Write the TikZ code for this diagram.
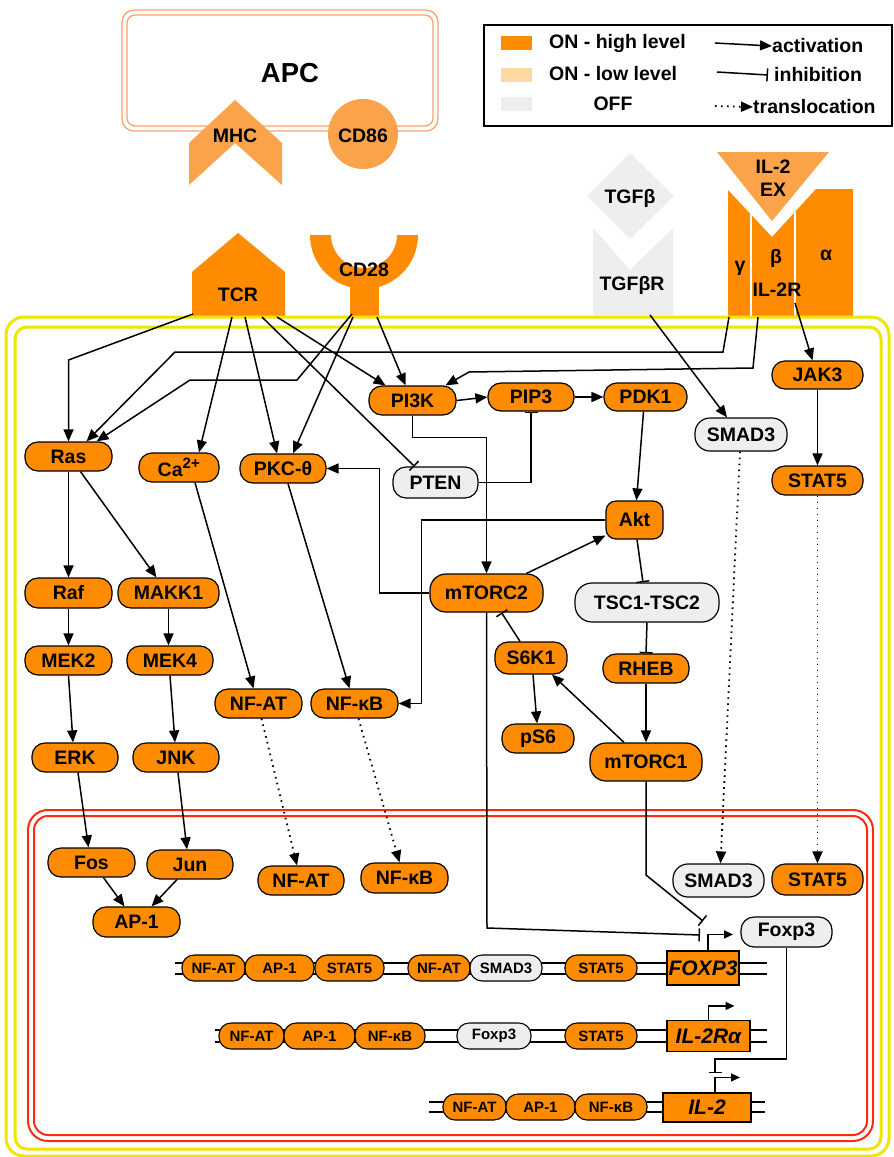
\documentclass[tikz,border=0pt]{standalone}
\usepackage{fontspec}
\setmainfont{Liberation Sans}
\usetikzlibrary{arrows.meta,calc}

\definecolor{onhigh}{HTML}{FF8C00}
\definecolor{onlow}{HTML}{FFD9A3}
\definecolor{offgrey}{HTML}{EEEEEE}
\definecolor{ligand}{HTML}{FAA34B}
\definecolor{apcline}{HTML}{F8A470}
\definecolor{memyellow}{HTML}{EEE600}
\definecolor{nucred}{HTML}{FF2A10}

\begin{document}
\begin{tikzpicture}[x=1pt,y=-1pt,
  font=\fontsize{19.5}{21}\selectfont\bfseries,
  mol/.style={draw=black, line width=1.2pt, fill=onhigh, rounded corners=13pt,
    minimum height=29pt, inner sep=0pt},
  off/.style={mol, fill=offgrey},
  gmol/.style={draw=black, line width=1.1pt, fill=onhigh, rounded corners=12pt,
    minimum height=26pt, inner sep=0pt, font=\fontsize{15}{16}\selectfont\bfseries},
  goff/.style={gmol, fill=offgrey},
  gene/.style={draw=black, line width=1.1pt, fill=onhigh, inner sep=0pt,
    font=\fontsize{21}{22}\selectfont\bfseries\itshape},
  dna/.style={line width=1.1pt},
  act/.style={line width=1.5pt, -{Triangle[length=12pt,width=10pt]}},
  inh/.style={line width=1.5pt, -{Bar[width=13pt,line width=1.5pt]}},
  trans/.style={line width=1.8pt, dash pattern=on 1.6pt off 4.4pt, -{Triangle[length=12pt,width=10pt]}},
  prom/.style={line width=1.5pt, -{Triangle[length=9pt,width=8pt]}},
  lab/.style={inner sep=0pt},
]
\useasboundingbox (0,0) rectangle (894,1157);
\fill[white] (0,0) rectangle (894,1157);

% ---------- antigen presenting cell ----------
\draw[apcline, line width=1.3pt, rounded corners=12pt] (122,10) rectangle (438,131);
\draw[apcline, line width=1.3pt, rounded corners=8pt] (127,15) rectangle (433,126);
\node[lab, font=\fontsize{27.5}{29}\selectfont\bfseries] (apc) at (290,73) {APC};
\fill[ligand] (189,143) -- (235,100) -- (282,143) -- (282,185) -- (235,143) -- (189,185) -- cycle;
\node[lab] (mhc) at (235,136) {MHC};
\fill[ligand] (363,134) circle[radius=35];
\node[lab] (cd86) at (363,136) {CD86};

% ---------- legend ----------
\draw[line width=1.3pt] (484,25) rectangle (892,126);
\fill[onhigh] (501,36) rectangle (532,50);
\fill[onlow] (501,68) rectangle (532,82);
\fill[offgrey] (501,97) rectangle (532,111);
\node[lab, anchor=west] (lgA) at (549,43) {ON - high level};
\node[lab, anchor=west] (lgB) at (549,74) {ON - low level};
\node[lab] (lgC) at (613,104) {OFF};
\node[lab, anchor=west] (lgD) at (772,46) {activation};
\node[lab, anchor=west] (lgE) at (774,75) {inhibition};
\node[lab, anchor=west] (lgF) at (753,107) {translocation};
\coordinate (lgA1) at (715,43);
\coordinate (lgB1) at (717,72);
\coordinate (lgC1) at (715,106);
\draw[act] (lgA1) -- (lgD.west);
\draw[inh] (lgB1) -- ([xshift=-6pt]lgE.west);
\draw[trans] (lgC1) -- (lgF.west);

% ---------- receptors and ligands ----------
\fill[onhigh] (192,316) -- (192,272) -- (238,233) -- (285,272) -- (285,316) -- cycle;
\node[lab] (tcr) at (238,295) {TCR};
\fill[onhigh] (310,235) arc[start angle=180, end angle=0, radius=54]
  -- (397,235) arc[start angle=0, end angle=180, radius=33] -- cycle;
\fill[onhigh] (350,280) rectangle (379,316);
\node[lab] (cd28) at (364,270) {CD28};

\fill[offgrey] (587,196) -- (630,153) -- (674,196) -- (630,239) -- cycle;
\node[lab] (tgfb) at (630,198) {TGFβ};
\fill[offgrey] (593,228) -- (630,270) -- (673,228) -- (673,315) -- (593,315) -- cycle;
\node[lab] (tgfbr) at (632,285) {TGFβR};

\fill[onhigh] (728,190) -- (772,237) -- (816,189) -- (853,189) -- (853,316) -- (728,316) -- cycle;
\draw[white, line width=1.6pt] (751,214) -- (751,317);
\draw[white, line width=1.6pt] (795,212) -- (795,317);
\fill[ligand] (717,152) -- (829,152) -- (772,221) -- cycle;
\node[lab] (il2ex) at (773,167) {IL-2};
\node[lab] (ex) at (773,190) {EX};
\node[lab] (gam) at (740,268) {γ};
\node[lab] (bet) at (776,258) {β};
\node[lab] (alp) at (826,255) {α};
\node[lab] (il2r) at (777,290) {IL-2R};

% ---------- membranes ----------
\draw[memyellow, line width=3pt, rounded corners=18pt] (6,317) rectangle (889,1156);
\draw[memyellow, line width=3pt, rounded corners=12pt] (15,327) rectangle (881,1149);
\draw[nucred, line width=2pt, rounded corners=20pt] (28,810) rectangle (873,1141);
\draw[nucred, line width=2pt, rounded corners=14pt] (34,816) rectangle (867,1135);

% ---------- cytoplasmic molecules ----------
\node[mol, minimum width=87pt] (ras) at (68.5,456.5) {Ras};
\node[mol, minimum width=80pt] (ca) at (179,467.5) {Ca\textsuperscript{\fontsize{15}{16}\selectfont 2+}};
\node[mol, minimum width=86pt] (pkc) at (283,468.5) {PKC-θ};
\node[off, minimum width=85pt, minimum height=31pt] (pten) at (435.5,482.5) {PTEN};
\node[mol, minimum width=87pt] (pi3k) at (412.5,400.5) {PI3K};
\node[mol, minimum width=86pt, minimum height=28pt] (pip3) at (531,397) {PIP3};
\node[mol, minimum width=83pt, minimum height=28pt] (pdk1) at (645.5,397) {PDK1};
\node[off, minimum width=92pt, minimum height=33pt, rounded corners=15pt] (smadc) at (741,434.5) {SMAD3};
\node[mol, minimum width=91pt, minimum height=28pt] (jak3) at (817.5,375) {JAK3};
\node[mol, minimum width=91pt] (stat5c) at (817.5,480.5) {STAT5};
\node[mol, minimum width=57pt, minimum height=38pt, rounded corners=10pt] (akt) at (634.5,520) {Akt};
\node[mol, minimum width=113pt, minimum height=38pt, rounded corners=16pt] (mtorc2) at (486.5,593) {mTORC2};
\node[off, minimum width=144pt, minimum height=39pt, rounded corners=17pt] (tsc) at (647,602.5) {TSC1-TSC2};
\node[mol, minimum width=72pt, minimum height=32pt] (s6k1) at (531,658) {S6K1};
\node[mol, minimum width=86pt] (rheb) at (646,668.5) {RHEB};
\node[mol, minimum width=72pt] (ps6) at (538,738.5) {pS6};
\node[mol, minimum width=112pt, minimum height=38pt, rounded corners=16pt] (mtorc1) at (646,762) {mTORC1};
\node[mol, minimum width=87pt, minimum height=30pt] (raf) at (68.5,593) {Raf};
\node[mol, minimum width=101pt, minimum height=30pt] (makk1) at (168.5,593) {MAKK1};
\node[mol, minimum width=87pt] (mek2) at (68.5,660.5) {MEK2};
\node[mol, minimum width=86pt] (mek4) at (170,660.5) {MEK4};
\node[mol, minimum width=86pt] (erk) at (75,757.5) {ERK};
\node[mol, minimum width=86pt] (jnk) at (176,757.5) {JNK};
\node[mol, minimum width=87pt] (nfatc) at (258.5,703.5) {NF-AT};
\node[mol, minimum width=87pt] (nfkbc) at (354.5,703.5) {NF-κB};

% ---------- nuclear molecules ----------
\node[mol, minimum width=87pt] (fos) at (91.5,862.5) {Fos};
\node[mol, minimum width=86pt] (jun) at (190,864.5) {Jun};
\node[mol, minimum width=87pt, minimum height=30pt] (ap1) at (136.5,922) {AP-1};
\node[mol, minimum width=86pt] (nfatn) at (301,880.5) {NF-AT};
\node[mol, minimum width=87pt, minimum height=30pt] (nfkbn) at (404.5,878) {NF-κB};
\node[off, minimum width=91pt, minimum height=33pt, rounded corners=15pt] (smadn) at (718.5,880.5) {SMAD3};
\node[mol, minimum width=91pt, minimum height=31pt] (stat5n) at (817.5,879.5) {STAT5};
\node[off, minimum width=91pt, minimum height=30pt] (foxp3n) at (786.5,932) {Foxp3};

% ---------- genes ----------
\draw[dna] (175,963) -- (767,963);
\draw[dna] (175,974) -- (767,974);
\node[gmol, minimum width=63pt] (r1a) at (213.5,968) {NF-AT};
\node[gmol, minimum width=69pt] (r1b) at (279.5,968) {AP-1};
\node[gmol, minimum width=69pt] (r1c) at (349.5,968) {STAT5};
\node[gmol, minimum width=62pt] (r1d) at (439,968) {NF-AT};
\node[goff, minimum width=72pt] (r1e) at (506,968) {SMAD3};
\node[gmol, minimum width=72pt] (r1f) at (601,968) {STAT5};
\node[gene, minimum width=72pt, minimum height=34pt] (gfox) at (703,968) {FOXP3};

\draw[dna] (215,1030) -- (767,1030);
\draw[dna] (215,1042) -- (767,1042);
\node[gmol, minimum width=65pt] (r2a) at (251.5,1036) {NF-AT};
\node[gmol, minimum width=71pt] (r2b) at (319.5,1036) {AP-1};
\node[gmol, minimum width=70pt] (r2c) at (390,1036) {NF-κB};
\node[goff, minimum width=74pt] (r2d) at (494,1036) {Foxp3};
\node[gmol, minimum width=72pt] (r2e) at (601,1036) {STAT5};
\node[gene, minimum width=83pt, minimum height=31pt] (gil2ra) at (708.5,1036) {IL-2Rα};

\draw[dna] (429,1102) -- (765,1102);
\draw[dna] (429,1112) -- (765,1112);
\node[gmol, minimum width=63pt] (r3a) at (474.5,1107) {NF-AT};
\node[gmol, minimum width=69pt] (r3b) at (540.5,1107) {AP-1};
\node[gmol, minimum width=72pt] (r3c) at (611,1107) {NF-κB};
\node[gene, minimum width=88pt, minimum height=29pt] (gil2) at (707,1107.5) {IL-2};

% promoters
\draw[prom] ([xshift=5pt]gfox.north) -- ++(0,-16) -- ++(25,0);
\draw[prom] ([xshift=0pt]gil2ra.north) -- ++(0,-14) -- ++(26,0);
\draw[prom] ([xshift=8pt]gil2.north) -- ++(0,-15) -- ++(25,0);

% ---------- receptor outputs ----------
\coordinate (tcrA) at (193,314);
\coordinate (tcrB) at (232,317);
\coordinate (tcrC) at (245,317);
\coordinate (tcrD) at (262,317);
\coordinate (tcrE) at (277,317);
\coordinate (cdA) at (352,314);
\coordinate (cdB) at (353,317);
\coordinate (cdC) at (377,317);
\coordinate (il2g) at (729,317);
\coordinate (il2b) at (758,317);
\coordinate (il2a) at (795,303);
\coordinate (tgfr) at (650,315);

\draw[act] (tcrA) -- (68.5,360) -- (ras.north);
\draw[act] (tcrB) -- ([xshift=20pt]ca.north);
\draw[act] (tcrC) -- ([xshift=-6pt]pkc.north);
\draw[inh] (tcrD) -- ([xshift=-21pt]pten.north);
\draw[act] (tcrE) -- ([xshift=-27pt]pi3k.north);
\draw[act] (cdA) -- (297,380) -- (190,380) -- ([xshift=28pt]ras.north);
\draw[act] (cdB) -- ([xshift=10pt]pkc.north);
\draw[act] (cdC) -- ([xshift=-7pt]pi3k.north);
\draw[act] (il2g) -- (723,352) -- (175,352) -- ([xshift=18pt]ras.north);
\draw[act] (il2b) -- (753,368) -- (469,372) -- ([xshift=33pt]pi3k.north);
\draw[act] (il2a) -- ([xshift=-5pt]jak3.north);
\draw[act] (tgfr) -- ([xshift=-14pt]smadc.north);

% ---------- signalling ----------
\draw[act] (pi3k.east) -- (pip3.west);
\draw[act] (pip3.east) -- (pdk1.west);
\draw[act] (pi3k.south) -- ++(0,22) -| (mtorc2.north);
\draw[inh] (pten.east) -| (pip3.south);
\draw[act] ([xshift=-2pt]pdk1.south) -- ([xshift=2pt]akt.north);
\draw[act] ([xshift=40pt]mtorc2.north) -- ([yshift=4pt]akt.south west);
\draw[act] (akt.west) -- ++(-184,0) |- (nfkbc.east);
\draw[act] (mtorc2.west) -- ++(-50,0) |- (pkc.east);
\draw[inh] ([xshift=2.5pt]akt.south) -- ([xshift=-4pt]tsc.north);
\draw[inh] (tsc.south) -- (rheb.north);
\draw[act] (rheb.south) -- (mtorc1.north);
\draw[act] ([xshift=-22pt]mtorc1.north) -- ([xshift=21pt]s6k1.south);
\draw[act] ([xshift=2pt]s6k1.south) -- ([xshift=-1pt]ps6.north);
\draw[inh] ([xshift=-11pt]s6k1.north) -- ([xshift=15pt]mtorc2.south);
\draw[act] (jak3.south) -- (stat5c.north);

\draw[act] (ras.south) -- (raf.north);
\draw[act] ([xshift=12pt]ras.south) -- ([xshift=-12pt]makk1.north);
\draw[act] (raf.south) -- (mek2.north);
\draw[act] (makk1.south) -- ([xshift=-1.5pt]mek4.north);
\draw[act] (mek2.south) -- ([xshift=-2pt]erk.north);
\draw[act] (mek4.south) -- ([xshift=-1pt]jnk.north);
\draw[act] ([xshift=16pt]ca.south) -- ([xshift=-5pt]nfatc.north);
\draw[act] ([xshift=5pt]pkc.south) -- ([xshift=-5pt]nfkbc.north);
\draw[act] ([xshift=3pt]erk.south) -- ([xshift=-3pt]fos.north);
\draw[act] ([xshift=2pt]jnk.south) -- ([xshift=-3pt]jun.north);
\draw[act] ([xshift=12pt]fos.south) -- ([xshift=-12pt]ap1.north);
\draw[act] ([xshift=-13pt]jun.south) -- ([xshift=15pt]ap1.north);

% ---------- translocation ----------
\draw[trans] ([xshift=3pt]nfatc.south) -- ([xshift=-4pt]nfatn.north);
\draw[trans] ([xshift=4pt]nfkbc.south) -- ([xshift=-5pt]nfkbn.north);
\draw[trans] ([xshift=-1pt]smadc.south) -- ([xshift=2pt]smadn.north);
\draw[trans] (stat5c.south) -- (stat5n.north);

% ---------- control of transcription ----------
\coordinate (fxA) at (700,935);
\coordinate (fxB) at (703,921);
\coordinate (il2turn) at (715,1059);
\coordinate (il2stop) at (715,1073);
\draw[inh] (mtorc2.south) -- (487,928) -- (fxA);
\draw[inh] (mtorc1.south) -- (646,875) -- (fxB);
\draw[inh] (foxp3n.south) |- (il2turn) -- (il2stop);
\end{tikzpicture}
\end{document}
